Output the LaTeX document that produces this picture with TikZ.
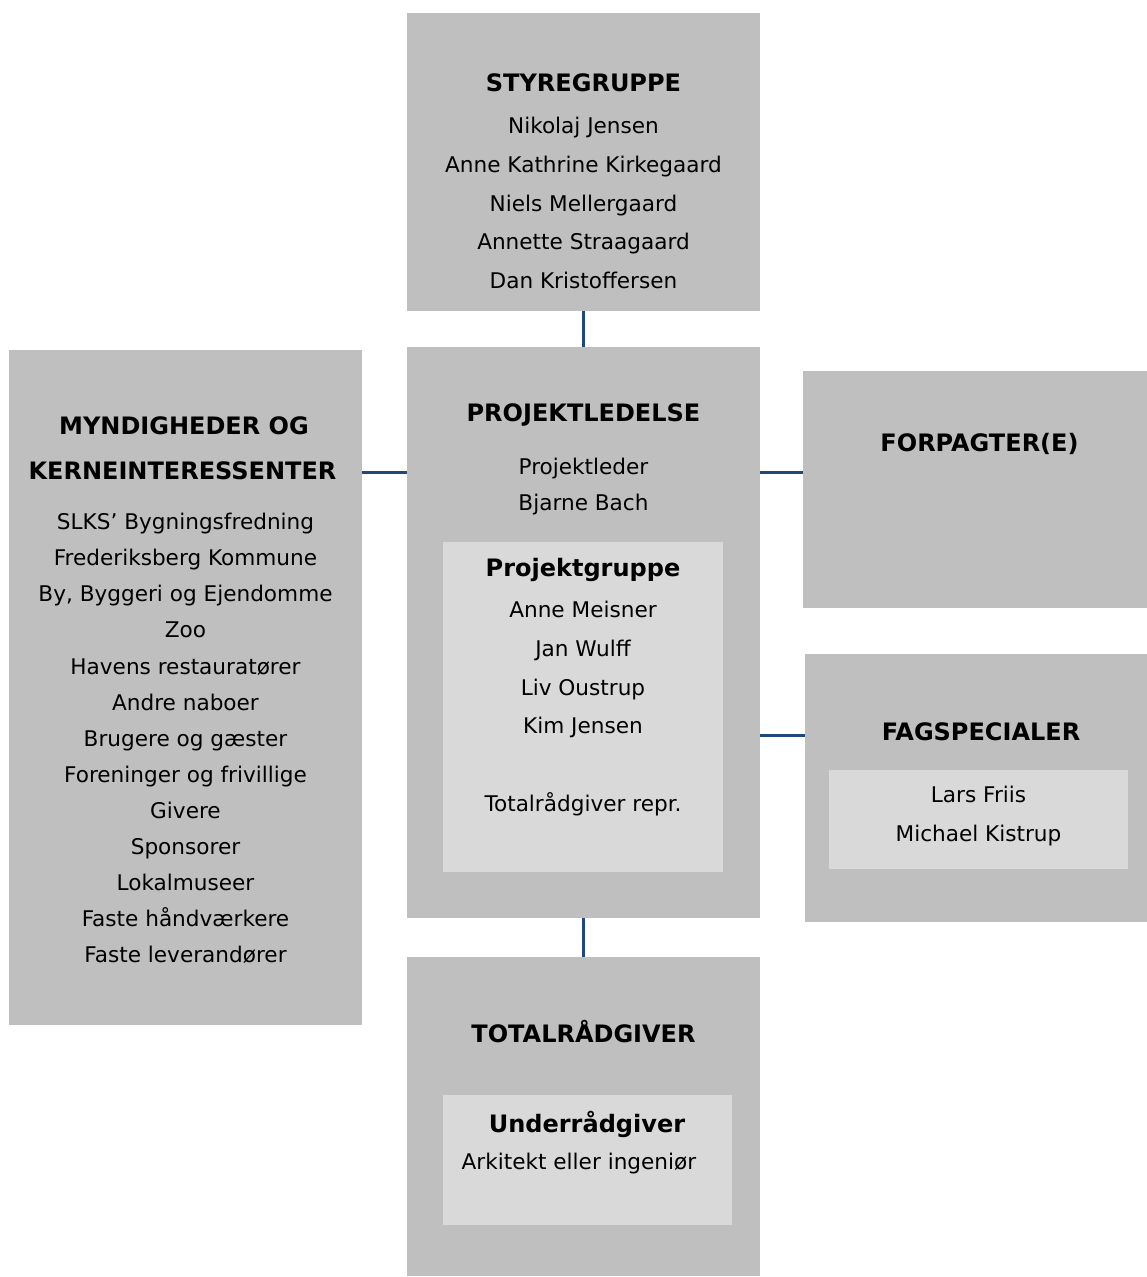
\documentclass[tikz,border=0pt]{standalone}
\usepackage{fontspec}
\setmainfont{DejaVu Sans}
\usepackage{xcolor}
\usepackage{tikz}
\usetikzlibrary{positioning}
\definecolor{boxgray}{HTML}{BFBFBF}
\definecolor{innergray}{HTML}{D9D9D9}
\definecolor{linkblue}{HTML}{1F497D}
\tikzstyle{box} = [fill=boxgray, draw=none, inner sep=0pt]
\tikzstyle{inbox} = [fill=innergray, draw=none, inner sep=0pt]
\tikzstyle{head} = [inner sep=0pt, anchor=base, font=\fontsize{24}{28}\selectfont\bfseries]
\tikzstyle{txt} = [inner sep=0pt, align=center, anchor=north, font=\fontsize{21.6}{38.75}\selectfont]
\tikzstyle{link} = [draw=linkblue, line width=3pt]

\begin{document}
\begin{tikzpicture}[x=1pt, y=-1pt]
			\useasboundingbox (0,0) rectangle (1147,1277);
			% boxes
			\node (styre) [box, minimum width=353pt, minimum height=298pt] at (583.5,162) {};
			\node (projekt) [box, minimum width=353pt, minimum height=571pt] at (583.5,632.5) {};
			\node (pgruppe) [inbox, minimum width=280pt, minimum height=330pt] at (583,707) {};
			\node (myndig) [box, minimum width=353pt, minimum height=675pt] at (185.5,687.5) {};
			\node (forpagter) [box, minimum width=344pt, minimum height=237pt] at (975,489.5) {};
			\node (fag) [box, minimum width=342pt, minimum height=268pt] at (976,788) {};
			\node (faginner) [inbox, minimum width=299pt, minimum height=99pt] at (978.5,819.5) {};
			\node (total) [box, minimum width=353pt, minimum height=319pt] at (583.5,1116.5) {};
			\node (totalinner) [inbox, minimum width=289pt, minimum height=130pt] at (587.5,1160) {};
			
			% headings
			\node (styrehead) [head] at (583.5,91.7) {STYREGRUPPE};
			\node (projekthead) [head] at (583.5,421.7) {PROJEKTLEDELSE};
			\node (pgruppehead) [head] at (583,576.7) {Projektgruppe};
			\node (myndighead) [head] at (184,434.7) {MYNDIGHEDER OG};
			\node (myndighead2) [head] at (182.5,479.7) {KERNEINTERESSENTER};
			\node (forpagterhead) [head] at (979.5,451.7) {FORPAGTER(E)};
			\node (faghead) [head] at (981,740.7) {FAGSPECIALER};
			\node (totalhead) [head] at (583.5,1042.7) {TOTALRÅDGIVER};
			\node (underhead) [head] at (587,1132.7) {Underrådgiver};
			
			% texts
			\node (styretxt) [txt] at (583.5,117.1) {Nikolaj Jensen\\Anne Kathrine Kirkegaard\\
				Niels Mellergaard\\Annette Straagaard\\Dan Kristoffersen};
			\node (projekttxt) [txt, font=\fontsize{21.6}{36}\selectfont] at (583.5,458.1) {Projektleder\\Bjarne Bach};
			\node (pgruppetxt) [txt, font=\fontsize{21.6}{38.67}\selectfont] at (583,601.1) {Anne Meisner\\Jan Wulff\\
				Liv Oustrup\\Kim Jensen\\[39.3pt]Totalrådgiver repr.};
			\node (myndigtxt) [txt, font=\fontsize{21.6}{36.08}\selectfont] at (185.5,513.1) {SLKS’ Bygningsfredning\\
				Frederiksberg Kommune\\By, Byggeri og Ejendomme\\Zoo\\Havens restauratører\\
				Andre naboer\\Brugere og gæster\\Foreninger og frivillige\\Givere\\Sponsorer\\
				Lokalmuseer\\Faste håndværkere\\Faste leverandører};
			\node (faginnertxt) [txt, font=\fontsize{21.6}{39}\selectfont] at (978.5,786.1) {Lars Friis\\Michael Kistrup};
			\node (arkitekttxt) [txt, anchor=base] at (579,1169) {Arkitekt eller ingeniør};
			
			% connectors
			\draw [link] (styre) -- (projekt);
			\draw [link] (projekt) -- (total);
			\draw [link] (projekt.west |- 0,472) -- (myndig.east |- 0,472);
			\draw [link] (projekt.east |- 0,472) -- (forpagter.west |- 0,472);
			\draw [link] (projekt.east |- 0,735) -- (fag.west |- 0,735);
		\end{tikzpicture}
\end{document}
